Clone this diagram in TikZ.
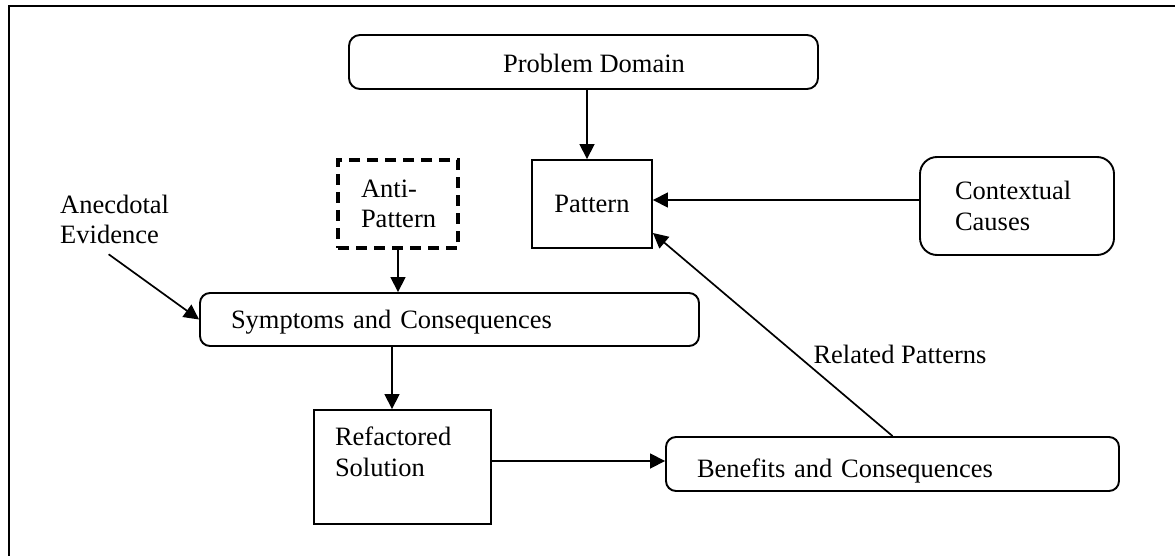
\documentclass[tikz,border=0pt]{standalone}
\usepackage{fontspec}
\setmainfont{Liberation Serif}
\usetikzlibrary{arrows.meta,calc}
\begin{document}
\begin{tikzpicture}[x=1pt,y=-1pt,
  every node/.style={font=\fontsize{26.5}{30.5}\selectfont, inner ysep=0pt},
  box/.style={draw, line width=1.9pt},
  rbox/.style={box, rounded corners=11pt},
  dashbox/.style={draw, line width=3.3pt, dash pattern=on 11pt off 7pt},
  arr/.style={line width=1.7pt, -{Triangle[length=15pt,width=15pt]}},
  lbl/.style={inner sep=0pt, align=left}
]
\useasboundingbox (0,0) rectangle (1175,556);
% frame (only top and left edges visible)
\draw[line width=2.6pt] (9,600) -- (9,6) -- (1200,6);

\node[rbox, minimum width=469pt, minimum height=54pt, text height=28pt, text depth=6pt]
  (PD) at (583.5,62) {\hspace*{21pt}Problem Domain};
\node[box, minimum width=120pt, minimum height=88pt] (Pat) at (592,204) {Pattern};
\node[dashbox, minimum height=88pt, text width=74pt, inner xsep=23pt, align=left]
  (Anti) at (398,204) {Anti-\\Pattern};
\node[rbox, rounded corners=17pt, minimum height=98pt, text width=124pt, inner xsep=35pt, align=left]
  (Ctx) at (1017,206) {Contextual\\Causes};
\node[lbl, anchor=west] (Anec) at (60,219.5) {Anecdotal\\Evidence};
\node[rbox, rounded corners=10pt, minimum height=53pt, text width=437pt, inner xsep=31pt, align=left, text height=23pt, text depth=6pt]
  (Sym) at (449.5,319.5) {Symptoms and Consequences};
\node[box, minimum height=114pt, text width=135pt, inner xsep=21pt, align=left]
  (Ref) at (402.5,467) {Refactored\\Solution\\\mbox{}};
\node[rbox, rounded corners=10pt, minimum height=54pt, text width=391pt, inner xsep=31pt, align=left, text height=33pt, text depth=6pt]
  (Ben) at (892.5,464) {Benefits and Consequences};

% connectors
\draw[arr] ([xshift=-5pt]Pat.north |- PD.south) -- ([xshift=-5pt]Pat.north);
\path ($(Pat.east)+(0,-4)$) coordinate (pe);
\draw[arr] (pe -| Ctx.west) -- (pe);
\draw[arr] ($(Anec.south)+(-6,10)$) -- (Sym.west);
\draw[arr] (Anti.south) -- (Anti.south |- Sym.north);
\draw[arr] ([xshift=-10.5pt]Ref.north |- Sym.south) -- ([xshift=-10.5pt]Ref.north);
\path ($(Ref.east)+(0,-6)$) coordinate (re);
\draw[arr] (re) -- (re -| Ben.west);
\draw[arr] (Ben.north) -- node[pos=0.4, anchor=west, inner sep=0pt, xshift=16pt] (RP) {Related Patterns} ($(Pat.east)+(0,29)$);
\end{tikzpicture}
\end{document}
